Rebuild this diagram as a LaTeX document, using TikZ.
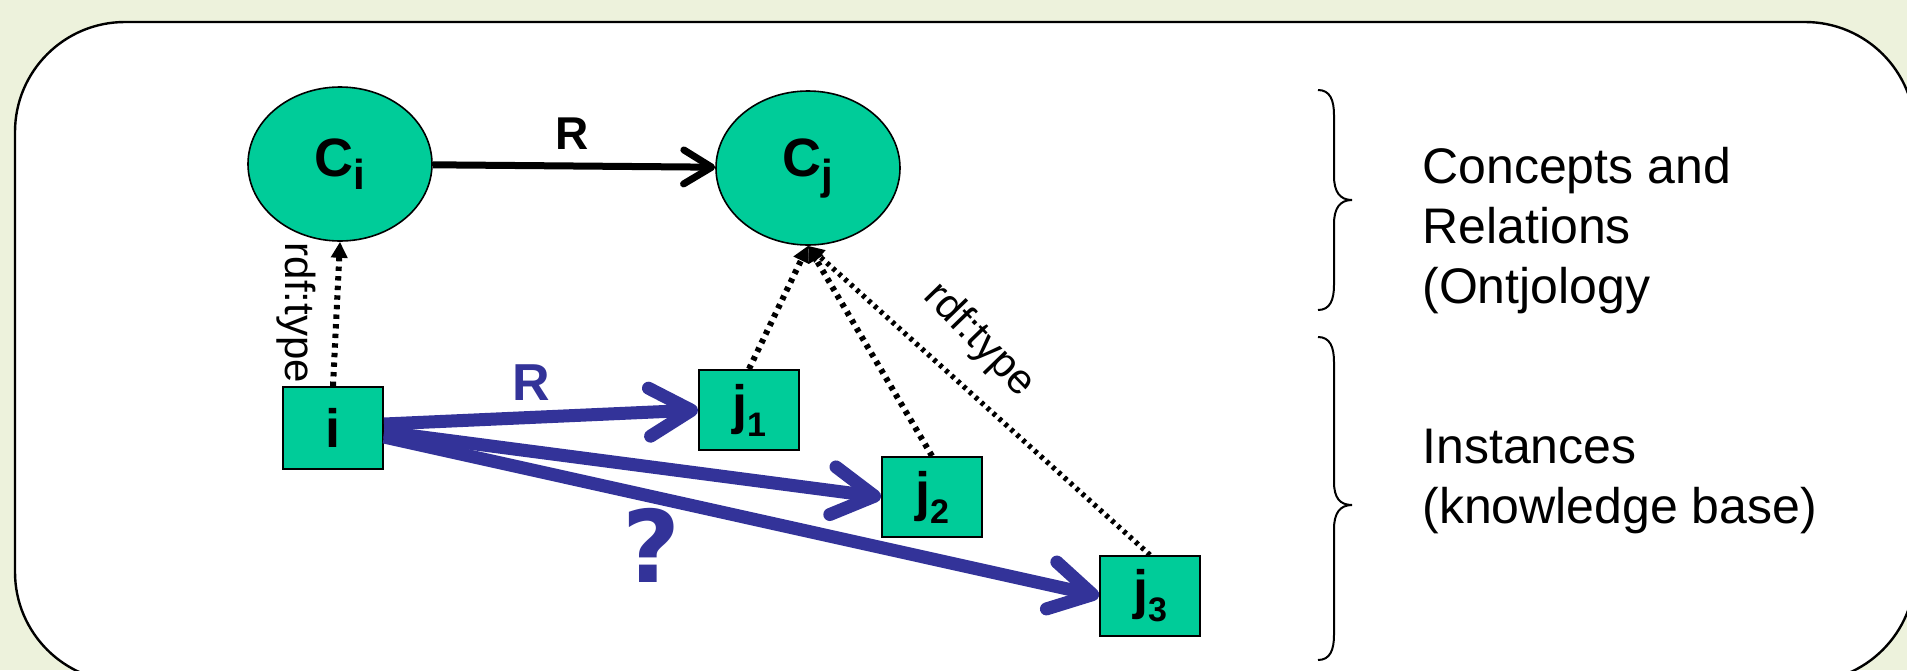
\documentclass[tikz,border=0pt]{standalone}
\usepackage{fontspec}
\setmainfont{Liberation Sans}
\newfontfamily\qfont{DejaVu Sans}
\usetikzlibrary{arrows.meta,shapes.geometric}
\definecolor{slidebg}{RGB}{237,242,220}
\definecolor{nodegreen}{RGB}{0,204,153}
\definecolor{relblue}{RGB}{51,51,153}
% lowered index used in the node names
\newcommand{\lowidx}[2]{\raisebox{-6.5pt}{\fontsize{#1}{#1}\selectfont #2}}
\begin{document}
\begin{tikzpicture}[x=0.5pt,y=-0.5pt,
  concept/.style={ellipse, draw=black, line width=0.8pt, fill=nodegreen,
    minimum width=92pt, minimum height=77pt, inner sep=0pt,
    font=\fontsize{27}{30}\selectfont\bfseries},
  inst/.style={rectangle, draw=black, line width=1pt, fill=nodegreen,
    minimum width=50pt, minimum height=40pt, inner sep=0pt,
    font=\fontsize{27}{30}\selectfont\bfseries},
  typeof/.style={line width=3pt, dash pattern=on 2.2pt off 2.6pt,
    -{Triangle[length=8pt,width=8pt]}},
  conceptrel/.style={line width=3.5pt, -{Straight Barb[length=14pt,width=17pt,round]}},
  instrel/.style={draw=relblue, line width=6.5pt,
    -{Straight Barb[length=21pt,width=24pt,round]}},
  rellabel/.style={font=\fontsize{23}{26}\selectfont\bfseries, inner sep=0pt},
  typelabel/.style={font=\fontsize{21}{25}\selectfont, inner sep=0pt},
  sidebrace/.style={line width=1pt},
  sidetext/.style={font=\fontsize{25}{30}\selectfont, align=left, anchor=west, inner sep=0pt},
  ]

% slide background and the rounded panel
\clip (0,0) rectangle (1907,670);
\fill[slidebg] (0,0) rectangle (1907,670);
\draw[line width=1.2pt, fill=white, rounded corners=55pt] (15,22) rectangle (1915,682);

% concepts
\node[concept] (ci) at (340,164) {C\lowidx{21}{i}};
\node[concept] (cj) at (808,168) {C\lowidx{21}{j}};

% instances
\node[inst, minimum height=41pt] (i) at (333,428) {i};
\node[inst] (j1) at (749,410) {j\lowidx{17}{1}};
\node[inst] (j2) at (932,497) {j\lowidx{17}{2}};
\node[inst] (j3) at (1150,596) {j\lowidx{17}{3}};

% relation between concepts
\draw[conceptrel] (ci) -- (cj);
\node[rellabel] (rtop) at (572,134) {R};

% type links
\draw[typeof] (i.north) -- (ci.south);
\draw[typeof] (j1.north) -- (cj.south);
\draw[typeof] (j2.north) -- (cj.south);
\draw[typeof, line width=2.6pt, dash pattern=on 1.8pt off 2.2pt] (j3.north) -- (cj.south);
\node[typelabel, rotate=-90] (tl1) at (296,313) {rdf:type};
\node[typelabel, rotate=-46] (tl2) at (979,340) {rdf:type};

% relations between instances
\draw[instrel] ([yshift=2pt]i.east) -- (j1.west);
\draw[instrel] ([yshift=-2pt]i.east) -- (j2.west);
\draw[instrel] ([yshift=-4.5pt]i.east) -- (j3.west);
\node[rellabel, text=relblue, font=\fontsize{26}{28}\selectfont\bfseries] (rbot) at (531,383) {R};
\node[text=relblue, font=\qfont\fontsize{50}{56}\selectfont\bfseries, inner sep=0pt] (q) at (651,545) {?};

% braces and level captions
\draw[sidebrace] (1318,90) .. controls (1330,90) and (1334,100) .. (1334,115)
  -- (1334,176) .. controls (1334,192) and (1340,200) .. (1352,200)
  .. controls (1340,200) and (1334,208) .. (1334,224)
  -- (1334,285) .. controls (1334,300) and (1330,310) .. (1318,310);
\draw[sidebrace] (1318,337) .. controls (1330,337) and (1334,347) .. (1334,362)
  -- (1334,482) .. controls (1334,498) and (1340,505) .. (1352,505)
  .. controls (1340,505) and (1334,513) .. (1334,529)
  -- (1334,635) .. controls (1334,650) and (1330,660) .. (1318,660);

\node[sidetext] (onto) at (1422,231) {Concepts and\\Relations\\(Ontjology};
\node[sidetext] (kb) at (1422,481) {Instances\\(knowledge base)};
\end{tikzpicture}
\end{document}
